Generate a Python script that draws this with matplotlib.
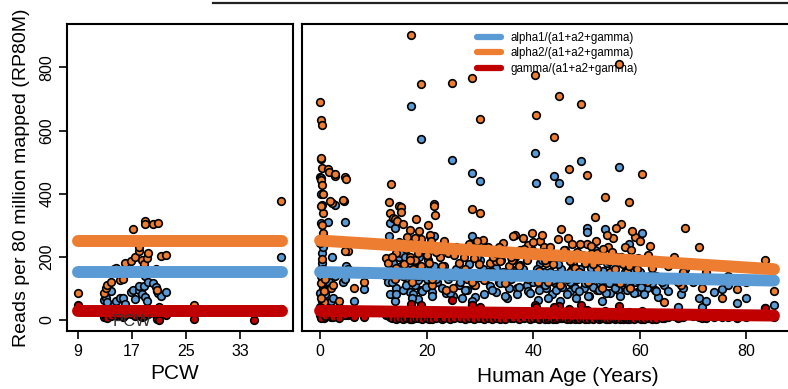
import matplotlib
matplotlib.use("Agg")
import matplotlib.pyplot as plt
from matplotlib.lines import Line2D

plt.rcParams['font.family'] = ['Liberation Sans', 'DejaVu Sans']

BLUE = '#5B9BD5'
ORANGE = '#ED7D31'
RED = '#C00000'

# ---- prenatal samples (post-conception weeks) ----
pcw = [9.0, 12.9, 13.2, 13.3, 13.9, 14.3, 14.6, 15.2, 15.7, 16.0,
       16.9, 17.1, 17.5, 18.0, 18.1, 18.5, 18.8, 18.9, 19.0, 19.2,
       19.4, 20.1, 20.6, 20.7, 20.9, 21.3, 22.1, 26.2, 35.0, 39.0, 21.0]
pcw_a1 = [40, 63, 70, 55, 90, 45, 60, 70, 70, 50,
          89, 95, 65, 95, 108, 80, 108, 73, 140, 60,
          120, 116, 105, 90, 85, 75, 89, 30, 20, 198, 30]
pcw_a2 = [84, 85, 100, 110, 121, 160, 165, 126, 130, 180,
          185, 288, 200, 217, 230, 190, 175, 312, 303, 195,
          211, 302, 160, 95, 307, 201, 206, 45, 25, 376, 40]
pcw_g = [45, 10, 8, 5, 12, 20, 15, 15, 10, 14,
         18, 20, 12, 22, 15, 10, 12, 25, 30, 35,
         18, 25, 14, 3, 22, 20, 15, 2, 0, 35, 0]

# fitted ratios (prenatal): start / end at pcw 9 and 39.2
pcw_fit_x = [9, 39.2]
pcw_fit_a1 = [151, 151]
pcw_fit_a2 = [251, 251]
pcw_fit_g = [28, 28]

# ---- postnatal samples (years) ----
age = [0.0, 0.1, 0.3, 0.2, 0.4, 0.1, 0.3, 0.5, 0.2, 0.6,
       0.0, 0.4, 0.2, 0.7, 0.3, 0.1, 0.5, 0.8, 0.2, 0.6,
       1.4, 1.6, 2.2, 2.8, 2.8, 4.4, 4.3, 1.8, 4.7, 4.8,
       5.3, 4.7, 6.4, 8.3, 1.0, 2.0, 2.5, 3.5,
       12.9, 13.1, 13.4, 13.6, 12.4, 12.8, 14.1, 14.4, 14.9, 15.2,
       15.6, 15.2, 14.3, 16.9, 16.3, 16.9, 17.5, 18.3, 18.6, 18.9,
       17.0, 18.9, 20.3, 20.6, 21.3, 21.4, 21.6, 20.8, 21.1, 22.0,
       19.5, 17.8, 15.8, 14.0, 13.2, 19.0, 20.0, 16.0, 18.0, 22.5,
       23.6, 24.7, 26.6, 28.6, 30.0, 28.5, 30.0, 30.5, 29.1, 31.9,
       34.4, 33.1, 35.0, 36.6, 39.7, 41.3, 37.5, 36.9, 40.9, 38.8,
       39.1, 40.3, 40.5, 24.0, 25.5, 26.0, 27.0, 27.5, 28.6, 29.5,
       31.0, 32.5, 33.5, 34.0, 35.5, 36.0, 37.0, 38.0, 39.0, 25.0,
       44.8, 43.9, 49.0, 46.7, 50.1, 56.1, 60.4, 53.4, 57.9, 51.6,
       56.5, 55.5, 50.2, 45.3, 41.7, 51.8, 59.1, 62.0, 42.5, 43.5,
       44.0, 45.0, 46.0, 47.0, 47.5, 48.0, 48.8, 49.5, 50.5, 51.0,
       52.0, 52.5, 53.0, 54.0, 54.5, 55.0, 56.0, 57.0, 58.2, 59.4,
       60.0, 61.3, 62.9, 63.5, 64.6, 65.4, 42.0, 46.5, 53.8, 58.6,
       67.8, 68.2, 68.5, 71.2, 71.7, 73.9, 75.5, 78.2, 83.6, 85.2,
       67.2, 70.0, 72.5, 76.5, 80.0, 66.5,
       13.5, 14.2, 14.8, 15.5, 16.2, 16.8, 17.3, 17.9, 18.4, 19.1,
       19.8, 20.4, 21.0, 21.8, 22.8, 23.2, 24.3, 25.2, 26.3, 27.2,
       28.0, 28.9, 29.8, 30.8, 31.5, 32.2, 33.0, 33.8, 34.7, 35.8,
       36.3, 37.3, 38.3, 39.4, 40.0, 40.7, 41.1, 41.9, 42.3, 42.8,
       43.2, 43.7, 44.3, 44.6, 45.5, 45.8, 46.3, 46.9, 47.3, 47.8,
       48.3, 48.6, 49.2, 49.8, 50.3, 50.8, 51.3, 51.9, 52.3, 52.8,
       53.2, 53.6, 54.2, 54.8, 55.3, 55.8, 56.3, 56.8, 57.3, 57.6,
       58.0, 58.4, 58.9, 59.7, 60.2, 60.8, 61.6, 62.4, 63.1, 64.2]
alpha1 = [452, 400, 365, 307, 211, 160, 132, 100, 450, 120,
          85, 60, 140, 95, 180, 250, 75, 45, 30, 230,
          310, 120, 200, 363, 140, 150, 120, 100, 310, 170,
          160, 130, 60, 97, 80, 60, 70, 40,
          265, 307, 190, 180, 140, 120, 291, 160, 200, 170,
          150, 210, 100, 180, 130, 89, 81, 66, 200, 573,
          677, 150, 190, 265, 265, 170, 230, 140, 89, 120,
          160, 110, 140, 60, 80, 95, 130, 200, 240, 150,
          86, 507, 70, 466, 440, 265, 190, 160, 73, 108,
          150, 89, 68, 200, 220, 180, 174, 100, 63, 110,
          140, 529, 435, 130, 160, 110, 145, 95, 60, 200,
          130, 170, 120, 190, 100, 140, 80, 160, 90, 75,
          435, 457, 502, 380, 290, 485, 276, 287, 240, 220,
          200, 180, 278, 160, 190, 150, 120, 140, 100, 80,
          120, 60, 140, 90, 110, 70, 160, 100, 75, 130,
          95, 115, 60, 140, 85, 170, 95, 110, 130, 89,
          150, 100, 95, 73, 110, 91, 150, 200, 180, 160,
          81, 102, 160, 70, 40, 89, 97, 52, 38, 45,
          40, 120, 60, 110, 70, 130,
          120, 80, 160, 95, 110, 140, 70, 185, 125, 90,
          105, 150, 75, 130, 100, 170, 85, 140, 120, 95,
          175, 110, 135, 80, 150, 95, 165, 115, 75, 130,
          190, 105, 145, 85, 120, 160, 95, 135, 110, 70,
          150, 125, 95, 175, 105, 140, 80, 120, 160, 100,
          130, 90, 145, 115, 75, 165, 105, 135, 95, 125,
          155, 85, 115, 140, 100, 130, 75, 120, 150, 95,
          110, 140, 85, 125, 105, 80, 135, 115, 90, 120]
alpha2 = [690, 634, 619, 510, 481, 444, 426, 339, 512, 276,
          243, 191, 116, 57, 300, 360, 160, 90, 70, 400,
          477, 467, 371, 457, 461, 376, 379, 376, 453, 445,
          219, 219, 102, 121, 130, 100, 110, 60,
          374, 339, 429, 322, 196, 180, 318, 312, 360, 357,
          302, 341, 210, 286, 262, 200, 160, 140, 281, 749,
          902, 257, 300, 270, 366, 360, 331, 249, 110, 230,
          220, 190, 175, 130, 150, 170, 205, 240, 320, 200,
          94, 750, 150, 768, 637, 350, 339, 254, 110, 180,
          243, 185, 140, 268, 275, 249, 220, 160, 120, 190,
          238, 777, 649, 210, 230, 180, 200, 130, 120, 250,
          220, 200, 230, 210, 170, 190, 150, 260, 130, 100,
          708, 580, 685, 479, 459, 810, 461, 389, 374, 326,
          305, 291, 240, 289, 270, 251, 261, 233, 180, 140,
          200, 110, 220, 150, 175, 130, 240, 200, 125, 210,
          160, 190, 100, 230, 150, 260, 120, 180, 102, 160,
          250, 121, 190, 130, 57, 170, 230, 260, 270, 280,
          110, 150, 291, 230, 100, 130, 70, 97, 190, 91,
          120, 180, 150, 140, 120, 200,
          200, 165, 245, 140, 225, 190, 120, 260, 210, 150,
          235, 180, 130, 215, 170, 250, 140, 205, 225, 160,
          240, 195, 175, 125, 230, 150, 210, 185, 115, 200,
          265, 170, 225, 135, 245, 205, 155, 215, 190, 120,
          230, 175, 145, 255, 200, 220, 130, 185, 240, 165,
          215, 150, 205, 180, 120, 235, 175, 210, 140, 195,
          225, 135, 185, 215, 160, 200, 115, 175, 230, 150,
          170, 220, 130, 195, 185, 125, 205, 165, 140, 180]
gamma = [40, 35, 30, 28, 22, 30, 25, 20, 38, 18,
         15, 10, 12, 8, 26, 30, 12, 6, 5, 32,
         30, 22, 25, 30, 20, 25, 18, 20, 28, 22,
         15, 14, 8, 10, 12, 10, 9, 6,
         25, 28, 22, 20, 15, 14, 26, 18, 24, 20,
         17, 22, 12, 20, 15, 10, 9, 8, 22, 45,
         50, 16, 20, 24, 25, 19, 22, 15, 8, 13,
         14, 12, 14, 7, 9, 10, 13, 20, 24, 15,
         8, 63, 8, 45, 40, 25, 20, 16, 8, 11,
         15, 9, 7, 20, 22, 18, 17, 10, 7, 11,
         14, 45, 40, 13, 16, 11, 14, 9, 45, 20,
         13, 16, 12, 18, 10, 14, 8, 16, 9, 7,
         42, 40, 45, 35, 30, 42, 28, 28, 24, 22,
         20, 18, 26, 16, 18, 15, 12, 14, 10, 8,
         12, 6, 14, 9, 11, 7, 16, 10, 8, 13,
         9, 11, 6, 14, 8, 17, 9, 11, 10, 9,
         15, 10, 9, 7, 6, 9, 15, 20, 18, 16,
         8, 10, 16, 7, 6, 9, 8, 5, 38, 10,
         5, 12, 6, 10, 7, 13,
         4, 2, 6, 3, 5, 2, 1, 6, 4, 3,
         5, 2, 1, 4, 3, 6, 2, 5, 4, 3,
         6, 2, 5, 1, 4, 3, 5, 2, 1, 4,
         6, 3, 5, 2, 4, 6, 3, 5, 2, 1,
         4, 3, 2, 6, 5, 4, 1, 3, 5, 2,
         4, 3, 5, 2, 1, 6, 3, 4, 2, 5,
         6, 1, 3, 5, 2, 4, 1, 3, 5, 2,
         3, 5, 2, 4, 3, 1, 5, 3, 2, 4]

# fitted ratios (postnatal): values at age 0 and 85.2
age_fit_x = [0, 85.2]
age_fit_a1 = [151, 124]
age_fit_a2 = [251, 160]
age_fit_g = [28, 13]

legend_labels = ['alpha1/(a1+a2+gamma)', 'alpha2/(a1+a2+gamma)',
                 'gamma/(a1+a2+gamma)']

fig = plt.figure(figsize=(7.88, 3.89), dpi=100)
ax_pcw = fig.add_axes([0.0850, 0.1491, 0.2868, 0.7892])
ax_age = fig.add_axes([0.3832, 0.1491, 0.6206, 0.7892])

ylim = (-36, 938)
pt = dict(s=30, edgecolors='black', linewidths=1.2, zorder=3)
fit = dict(lw=8.6, solid_capstyle='round', zorder=4)

# prenatal panel
ax_pcw.scatter(pcw, pcw_a1, c=BLUE, **pt)
ax_pcw.scatter(pcw, pcw_a2, c=ORANGE, **pt)
ax_pcw.scatter(pcw, pcw_g, c=RED, **pt)
ax_pcw.plot(pcw_fit_x, pcw_fit_a1, color=BLUE, **fit)
ax_pcw.plot(pcw_fit_x, pcw_fit_a2, color=ORANGE, **fit)
ax_pcw.plot(pcw_fit_x, pcw_fit_g, color=RED, **fit)
ax_pcw.text(17, -6, 'PCW', ha='center', va='center', fontsize=12,
            color='#333333', zorder=5)
ax_pcw.set_xlim(7.4, 40.8)
ax_pcw.set_ylim(*ylim)
ax_pcw.set_xticks([9, 17, 25, 33])
ax_pcw.set_yticks([0, 200, 400, 600, 800])
ax_pcw.tick_params(axis='y', labelrotation=90)
for lab in ax_pcw.get_yticklabels():
    lab.set_va('center')
ax_pcw.set_xlabel('PCW', fontsize=15)
ax_pcw.xaxis.set_label_coords(0.478, -0.108)
ax_pcw.set_ylabel('Reads per 80 million mapped (RP80M)', fontsize=14)
ax_pcw.yaxis.set_label_coords(-0.164, 0.5)

# postnatal panel
ax_age.scatter(age, alpha1, c=BLUE, **pt)
ax_age.scatter(age, alpha2, c=ORANGE, **pt)
ax_age.scatter(age, gamma, c=RED, **pt)
ax_age.plot(age_fit_x, age_fit_a1, color=BLUE, **fit)
ax_age.plot(age_fit_x, age_fit_a2, color=ORANGE, **fit)
ax_age.plot(age_fit_x, age_fit_g, color=RED, **fit)
ax_age.set_xlim(-3.4, 88.4)
ax_age.set_ylim(*ylim)
ax_age.set_xticks([0, 20, 40, 60, 80])
ax_age.set_yticks([])
ax_age.set_xlabel('Human Age (Years)', fontsize=15)
ax_age.xaxis.set_label_coords(0.544, -0.118)

handles = [Line2D([], [], color=c, lw=4.5, solid_capstyle='round')
           for c in (BLUE, ORANGE, RED)]
leg = ax_age.legend(handles, legend_labels, loc='upper left',
                    bbox_to_anchor=(0.348, 0.99), frameon=False, fontsize=8.3,
                    handlelength=2.1, handletextpad=0.8, labelspacing=0.3,
                    borderaxespad=0)
leg.set_zorder(1)

for ax in (ax_pcw, ax_age):
    for sp in ax.spines.values():
        sp.set_linewidth(1.5)
    ax.tick_params(length=6, width=1.2, labelsize=11.5, pad=3)

# line left over from the title above the panels
fig.add_artist(Line2D([213 / 788, 1.0], [1 - 3 / 389, 1 - 3 / 389],
                      color='#222222', lw=1.6))

fig.savefig('out.png', dpi=100)
